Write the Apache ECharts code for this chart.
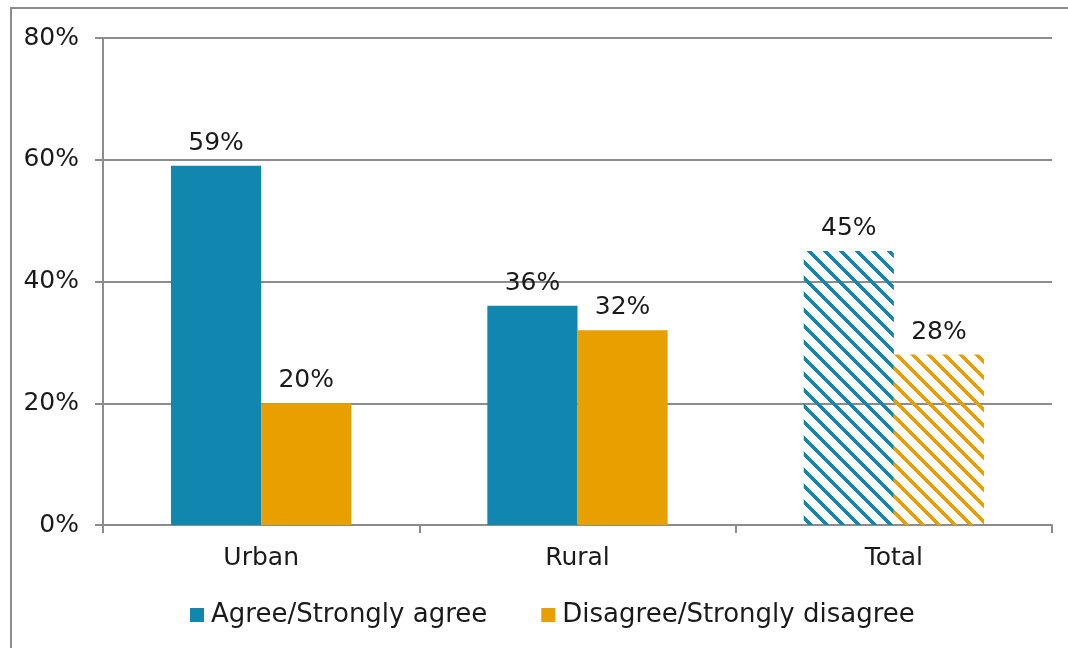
<!DOCTYPE html>
<html>
<head>
<meta charset="utf-8">
<style>
  html, body { margin: 0; padding: 0; background: #ffffff; }
  #chart { width: 1068px; height: 648px; }
</style>
<script src="https://cdn.jsdelivr.net/npm/echarts@6/dist/echarts.min.js"></script>
</head>
<body>
<div id="chart"></div>
<script>
// Survey responses by area
const categories = ['Urban', 'Rural', 'Total'];
const agreeValues = [59, 36, 45];
const disagreeValues = [20, 32, 28];
const seriesNames = ['Agree/Strongly agree', 'Disagree/Strongly disagree'];
const yTicks = { min: 0, max: 80, interval: 20 };
const hatchedCategory = 'Total';

const BLUE = '#1186ae';
const ORANGE = '#e8a000';
const AXIS_GREY = '#8c8c8c';
const TEXT = '#1a1a1a';
const FONT = 'DejaVu Sans';
const FONT_SIZE = 25;

// Diagonal stripe tile used for the summary column
function stripeTile(color) {
  const size = 16;
  const c = document.createElement('canvas');
  c.width = size; c.height = size;
  const ctx = c.getContext('2d');
  ctx.fillStyle = color;
  for (let y = 0; y < size; y++) {
    for (let x = 0; x < size; x++) {
      const d = ((y - x) % size + size) % size;
      if (d < 5) ctx.fillRect(x, y, 1, 1);
    }
  }
  return { image: c, repeat: 'repeat' };
}

function buildData(values, color) {
  return values.map((v, i) => categories[i] === hatchedCategory
    ? { value: v, itemStyle: { color: stripeTile(color) } }
    : v);
}

const chart = echarts.init(document.getElementById('chart'), null, { renderer: 'canvas' });

const labelStyle = {
  show: true,
  position: 'top',
  distance: 10,
  formatter: '{c}%',
  fontFamily: FONT,
  fontSize: FONT_SIZE,
  color: TEXT
};

chart.setOption({
  animation: false,
  textStyle: { fontFamily: FONT },
  graphic: [{
    type: 'rect',
    shape: { x: 11, y: 8, width: 1200, height: 800 },
    style: { fill: 'none', stroke: AXIS_GREY, lineWidth: 2 },
    silent: true,
    z: -1
  }],
  grid: { left: 103, right: 16, top: 38, bottom: 123 },
  legend: {
    bottom: 20,
    left: 190,
    padding: 0,
    itemWidth: 14,
    itemHeight: 14,
    itemGap: 54,
    icon: 'rect',
    textStyle: { fontFamily: FONT, fontSize: 26, color: TEXT, padding: [0, 0, 0, 2] },
    data: seriesNames
  },
  xAxis: {
    type: 'category',
    data: categories,
    axisLine: { lineStyle: { color: AXIS_GREY, width: 2 } },
    axisTick: { show: true, length: 8, lineStyle: { color: AXIS_GREY, width: 2 } },
    axisLabel: { fontFamily: FONT, fontSize: FONT_SIZE, color: TEXT, margin: 21 }
  },
  yAxis: {
    type: 'value',
    min: yTicks.min,
    max: yTicks.max,
    interval: yTicks.interval,
    axisLine: { show: true, lineStyle: { color: AXIS_GREY, width: 2 } },
    axisTick: { show: true, length: 8, lineStyle: { color: AXIS_GREY, width: 2 } },
    splitLine: { lineStyle: { color: AXIS_GREY, width: 2 } },
    axisLabel: { fontFamily: FONT, fontSize: FONT_SIZE, color: TEXT, margin: 24, formatter: '{value}%' }
  },
  series: [
    {
      name: seriesNames[0],
      type: 'bar',
      data: buildData(agreeValues, BLUE),
      itemStyle: { color: BLUE },
      barGap: '0%',
      barCategoryGap: '43%',
      label: labelStyle
    },
    {
      name: seriesNames[1],
      type: 'bar',
      data: buildData(disagreeValues, ORANGE),
      itemStyle: { color: ORANGE },
      barGap: '0%',
      barCategoryGap: '43%',
      label: labelStyle
    }
  ]
});
</script>
</body>
</html>
